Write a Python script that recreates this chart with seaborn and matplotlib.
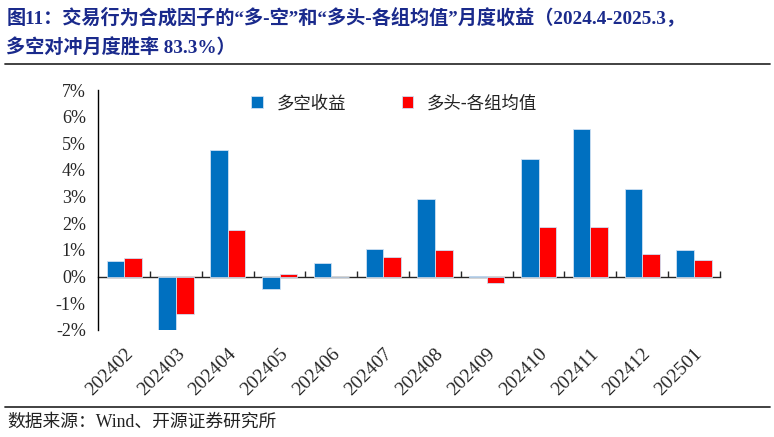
import pandas as pd
import matplotlib
matplotlib.use("Agg")
import matplotlib.pyplot as plt
import seaborn as sns

# chart data (monthly returns, %)
months = ["202402", "202403", "202404", "202405", "202406", "202407",
          "202408", "202409", "202410", "202411", "202412", "202501"]
long_short = [0.59, -2.00, 4.75, -0.48, 0.50, 1.05, 2.90, 0.04, 4.43, 5.55, 3.28, 0.99]
long_avg = [0.71, -1.39, 1.76, 0.09, 0.00, 0.74, 0.99, -0.23, 1.86, 1.86, 0.84, 0.61]
series_names = ["多空收益", "多头-各组均值"]
y_ticks = [-2, -1, 0, 1, 2, 3, 4, 5, 6, 7]

df = pd.DataFrame({
    "month": months * 2,
    "value": long_short + long_avg,
    "series": [series_names[0]] * len(months) + [series_names[1]] * len(months),
})

sns.set_style("white")
plt.rcParams["font.family"] = ["Liberation Serif", "Noto Sans CJK SC", "DejaVu Sans"]

fig = plt.figure(figsize=(7.74, 4.37), dpi=100)
ax = fig.add_axes([0.127, 0.245, 0.803, 0.549])

sns.barplot(data=df, x="month", y="value", hue="series",
            palette=["#0070C0", "#FF0000"], width=0.68, saturation=1, ax=ax,
            edgecolor="#CFE0F3", linewidth=0.6)

ax.set_ylim(-2, 7)
ax.set_xlim(-0.5, len(months) - 0.5)
ax.set_yticks(y_ticks)
ax.set_yticklabels([f"{t}%" for t in y_ticks], fontsize=13)
ax.set_xlabel("")
ax.set_ylabel("")
ax.tick_params(axis="y", direction="in", length=4, width=1, color="black", pad=9)
ax.tick_params(axis="x", length=0, labelsize=14, pad=11)
plt.setp(ax.get_xticklabels(), rotation=45, ha="right", rotation_mode="anchor")

for s in ["top", "right", "bottom"]:
    ax.spines[s].set_visible(False)
ax.spines["left"].set_color("black")
ax.spines["left"].set_linewidth(1)

# zero line with ticks between months
zero_pos = (0 - y_ticks[0]) / (y_ticks[-1] - y_ticks[0])
sec = ax.secondary_xaxis(zero_pos)
sec.set_xticks([i + 0.5 for i in range(len(months))])
sec.tick_params(direction="in", length=4, width=1, labelbottom=False)
sec.spines["bottom"].set_linewidth(1)

leg = ax.legend(loc="center", bbox_to_anchor=(0.476, 0.945), ncol=2, frameon=False,
                handlelength=0.65, handleheight=0.65, columnspacing=3.2,
                handletextpad=0.8,
                prop={"family": ["Noto Sans CJK SC"], "size": 12.5})
for t in leg.get_texts():
    t.set_color("#222222")

# title
title_kw = dict(fontsize=13.8, fontweight="bold", color="#1A2A8C", ha="left", va="center")
fig.text(0.008, 0.961, "图11：交易行为合成因子的“多-空”和“多头-各组均值”月度收益（2024.4-2025.3，", **title_kw)
fig.text(0.008, 0.892, "多空对冲月度胜率 83.3%）", **title_kw)

fig.add_artist(plt.Line2D([0.006, 0.995], [0.854, 0.854], color="#333333", linewidth=1.3))
fig.add_artist(plt.Line2D([0.006, 0.995], [0.069, 0.069], color="#333333", linewidth=1.3))

fig.text(0.009, 0.034, "数据来源：Wind、开源证券研究所", fontsize=12.8, color="#222222",
         ha="left", va="center")

fig.savefig("out.png", dpi=100)
